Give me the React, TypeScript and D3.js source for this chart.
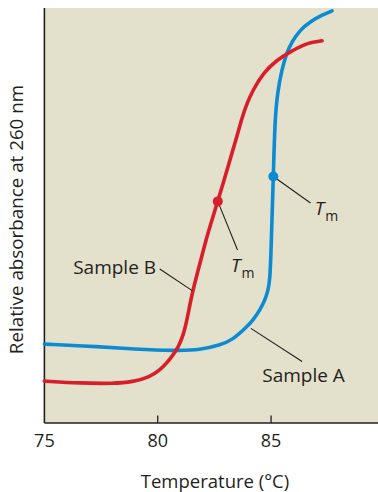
import React from "react";
import * as d3 from "d3";

// Sample A (blue): temperature (°C), relative absorbance
const tempA = [75.0, 77.45, 78.91, 80.85, 81.87, 82.75, 83.3, 83.94, 84.2, 84.51, 84.73, 84.87, 84.95, 85.0, 85.04, 85.08, 85.1, 85.17, 85.28, 85.47, 85.69, 85.91, 86.28, 86.72, 87.25, 87.69];
const absA = [0.19, 0.184, 0.178, 0.174, 0.176, 0.188, 0.2, 0.232, 0.248, 0.272, 0.296, 0.32, 0.345, 0.417, 0.489, 0.561, 0.594, 0.73, 0.795, 0.851, 0.892, 0.918, 0.947, 0.967, 0.983, 0.993];

// Sample B (red)
const tempB = [75.0, 76.57, 78.03, 78.91, 79.66, 80.1, 80.41, 80.67, 80.89, 81.12, 81.3, 81.5, 81.87, 82.22, 82.65, 83.19, 83.54, 83.72, 83.94, 84.2, 84.64, 85.26, 85.84, 86.41, 86.85, 87.25];
const absB = [0.101, 0.096, 0.095, 0.099, 0.111, 0.128, 0.145, 0.164, 0.181, 0.21, 0.25, 0.31, 0.386, 0.46, 0.534, 0.634, 0.699, 0.736, 0.771, 0.802, 0.843, 0.875, 0.894, 0.911, 0.918, 0.921];

// Melting temperature points
const tmA = { t: 85.1, v: 0.594 };
const tmB = { t: 82.65, v: 0.534 };

const xTicks = [75, 80, 85];

const W = 378;
const H = 492;
const RED = "#d81e2a";
const BLUE = "#0b8bd1";
const BG = "#e3e0cc";
const INK = "#231f20";
const FONT = "'Open Sans', 'DejaVu Sans', sans-serif";

export default function App() {
  const x = d3.scaleLinear().domain([75, 90]).range([44.4, 384.4]);
  const y = d3.scaleLinear().domain([0, 1]).range([423, 8]);

  const line = d3
    .line<[number, number]>()
    .x((d) => x(d[0]))
    .y((d) => y(d[1]))
    .curve(d3.curveBasis);

  const dataA: [number, number][] = tempA.map((t, i) => [t, absA[i]]);
  const dataB: [number, number][] = tempB.map((t, i) => [t, absB[i]]);

  const [x0, x1] = [x(75), W];
  const [yTop, yBot] = [y(1), y(0)];

  return (
    <svg
      width={W}
      height={H}
      style={{ position: "absolute", left: 0, top: 0 }}
      fontFamily={FONT}
    >
      <rect x={x0} y={yTop} width={x1 - x0} height={yBot - yTop} fill={BG} />

      {/* axes */}
      <line x1={x0} x2={x0} y1={yTop} y2={yBot} stroke={INK} strokeWidth={1.6} />
      <line x1={x0} x2={x1} y1={yBot} y2={yBot} stroke={INK} strokeWidth={1.6} />
      {xTicks.map((t) => (
        <g key={t}>
          {t !== 75 && (
            <line x1={x(t)} x2={x(t)} y1={yBot} y2={yBot - 7.5} stroke={INK} strokeWidth={1.3} />
          )}
          <text x={x(t)} y={447} textAnchor="middle" fontSize={18} fill={INK}>
            {t}
          </text>
        </g>
      ))}
      <text x={215} y={488} textAnchor="middle" fontSize={18.5} fill={INK}>
        Temperature (°C)
      </text>
      <text
        transform={`translate(23, ${(yTop + yBot) / 2 + 4}) rotate(-90)`}
        textAnchor="middle"
        fontSize={18.8}
        fill={INK}
      >
        Relative absorbance at 260 nm
      </text>

      {/* curves */}
      <path d={line(dataA) || ""} fill="none" stroke={BLUE} strokeWidth={3.6} strokeLinecap="round" />
      <path d={line(dataB) || ""} fill="none" stroke={RED} strokeWidth={3.6} strokeLinecap="round" />

      {/* leader lines */}
      <g stroke={INK} strokeWidth={1.1}>
        <line x1={x(80.09)} y1={y(0.371)} x2={x(81.52)} y2={y(0.319)} />
        <line x1={x(tmB.t)} y1={y(tmB.v)} x2={x(83.52)} y2={y(0.417)} />
        <line x1={x(tmA.t)} y1={y(tmA.v)} x2={x(86.74)} y2={y(0.53)} />
        <line x1={x(84.11)} y1={y(0.228)} x2={x(86.37)} y2={y(0.148)} />
      </g>

      {/* Tm points */}
      <circle cx={x(tmB.t)} cy={y(tmB.v)} r={5} fill={RED} />
      <circle cx={x(tmA.t)} cy={y(tmA.v)} r={5} fill={BLUE} />

      {/* labels */}
      <text x={x(76.27)} y={y(0.359)} fontSize={19} fill={INK}>
        Sample B
      </text>
      <text x={x(84.61)} y={y(0.099)} fontSize={19} fill={INK}>
        Sample A
      </text>
      <text x={x(83.23)} y={y(0.365)} fontSize={19} fill={INK}>
        <tspan fontStyle="italic">T</tspan>
        <tspan fontSize={14} dy={6} dx={1}>m</tspan>
      </text>
      <text x={x(86.93)} y={y(0.501)} fontSize={19} fill={INK}>
        <tspan fontStyle="italic">T</tspan>
        <tspan fontSize={14} dy={6} dx={1}>m</tspan>
      </text>
    </svg>
  );
}
